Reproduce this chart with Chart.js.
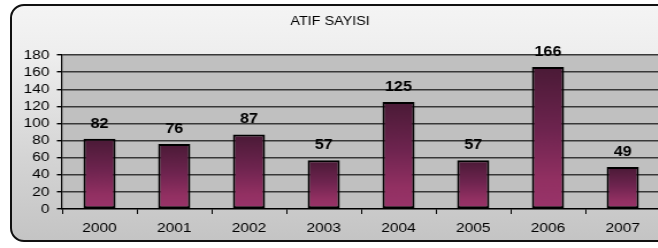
<!DOCTYPE html>
<html>
<head>
<meta charset="utf-8">
<script src="https://cdn.jsdelivr.net/npm/chart.js@4/dist/chart.umd.min.js"></script>
<style>
  html, body { margin: 0; padding: 0; width: 658px; height: 248px; overflow: hidden; background: #ffffff; }
  #frame {
    position: absolute; left: 10px; top: 4px; width: 662px; height: 238px;
    box-sizing: border-box; border: 2px solid #111; border-radius: 14px;
    background: linear-gradient(to bottom, #f4f4f4 0%, #eeeeee 20%, #d4d4d4 65%, #c4c4c4 100%);
  }
  #c {
    position: absolute; left: 0; top: 0;
    transform: scaleX(1.15); transform-origin: 0 0;
  }
</style>
</head>
<body>
<div id="frame"></div>
<canvas id="c" width="593" height="248"></canvas>
<script>
const chartTitle = "ATIF SAYISI";
const years = ["2000", "2001", "2002", "2003", "2004", "2005", "2006", "2007"];
const citations = [82, 76, 87, 57, 125, 57, 166, 49];
const yMin = 0;
const yMax = 180;
const yStep = 20;

function barGradient(ctx) {
  const chart = ctx.chart;
  const area = chart.chartArea;
  if (!area || !chart.scales.y || ctx.parsed == null) return '#7a2850';
  const yTop = chart.scales.y.getPixelForValue(ctx.parsed.y);
  const yBase = chart.scales.y.getPixelForValue(0);
  if (!isFinite(yTop) || !isFinite(yBase) || yBase - yTop < 1) return '#7a2850';
  const g = chart.ctx.createLinearGradient(0, yTop, 0, yBase);
  g.addColorStop(0, '#4a1a36');
  g.addColorStop(0.45, '#6e244f');
  g.addColorStop(0.8, '#923062');
  g.addColorStop(1, '#99346a');
  return g;
}

const plotBg = {
  id: 'plotBg',
  beforeDraw(chart) {
    const a = chart.chartArea;
    const c = chart.ctx;
    c.save();
    c.fillStyle = '#c0c0c0';
    c.fillRect(a.left, a.top, a.right - a.left, a.bottom - a.top);
    c.restore();
  }
};

const valueLabels = {
  id: 'valueLabels',
  afterDatasetsDraw(chart) {
    const c = chart.ctx;
    const meta = chart.getDatasetMeta(0);
    c.save();
    c.font = 'bold 14px "Liberation Sans", Arial, sans-serif';
    c.fillStyle = '#000';
    c.textAlign = 'center';
    c.textBaseline = 'bottom';
    meta.data.forEach((el, i) => {
      c.fillText(String(chart.data.datasets[0].data[i]), el.x, el.y - 8);
    });
    c.restore();
  }
};

new Chart(document.getElementById('c'), {
  type: 'bar',
  data: {
    labels: years,
    datasets: [{
      data: citations,
      backgroundColor: barGradient,
      borderColor: '#000',
      borderWidth: 2,
      borderSkipped: false,
      categoryPercentage: 1,
      barPercentage: 0.43
    }]
  },
  options: {
    responsive: false,
    animation: false,
    devicePixelRatio: 1,
    layout: { padding: { left: 0, right: 19, top: 0, bottom: 0 } },
    plugins: {
      legend: { display: false },
      tooltip: { enabled: false },
      title: {
        display: true,
        text: chartTitle,
        color: '#000',
        font: { family: '"Liberation Sans", Arial, sans-serif', size: 12.5, weight: 'normal', lineHeight: 1.2 },
        padding: { top: 14, bottom: 26 }
      }
    },
    scales: {
      x: {
        offset: true,
        grid: {
          display: true,
          offset: true,
          drawOnChartArea: false,
          drawTicks: true,
          tickLength: 5,
          tickColor: '#000',
          tickWidth: 1
        },
        border: { display: true, color: '#000', width: 1.2 },
        ticks: {
          color: '#000',
          font: { family: '"Liberation Sans", Arial, sans-serif', size: 13.5 },
          padding: 6,
          maxRotation: 0,
          autoSkip: false
        },
        afterFit(scale) { scale.height = 39; }
      },
      y: {
        min: yMin,
        max: yMax,
        grid: {
          color: '#383838',
          lineWidth: 1.4,
          drawTicks: true,
          tickLength: 4.5,
          tickColor: '#000'
        },
        border: { display: true, color: '#000', width: 1.2 },
        ticks: {
          stepSize: yStep,
          autoSkip: false,
          color: '#000',
          font: { family: '"Liberation Sans", Arial, sans-serif', size: 13.5 },
          padding: 6.5
        },
        afterFit(scale) { scale.width = 54; }
      }
    }
  },
  plugins: [plotBg, valueLabels]
});
</script>
</body>
</html>
